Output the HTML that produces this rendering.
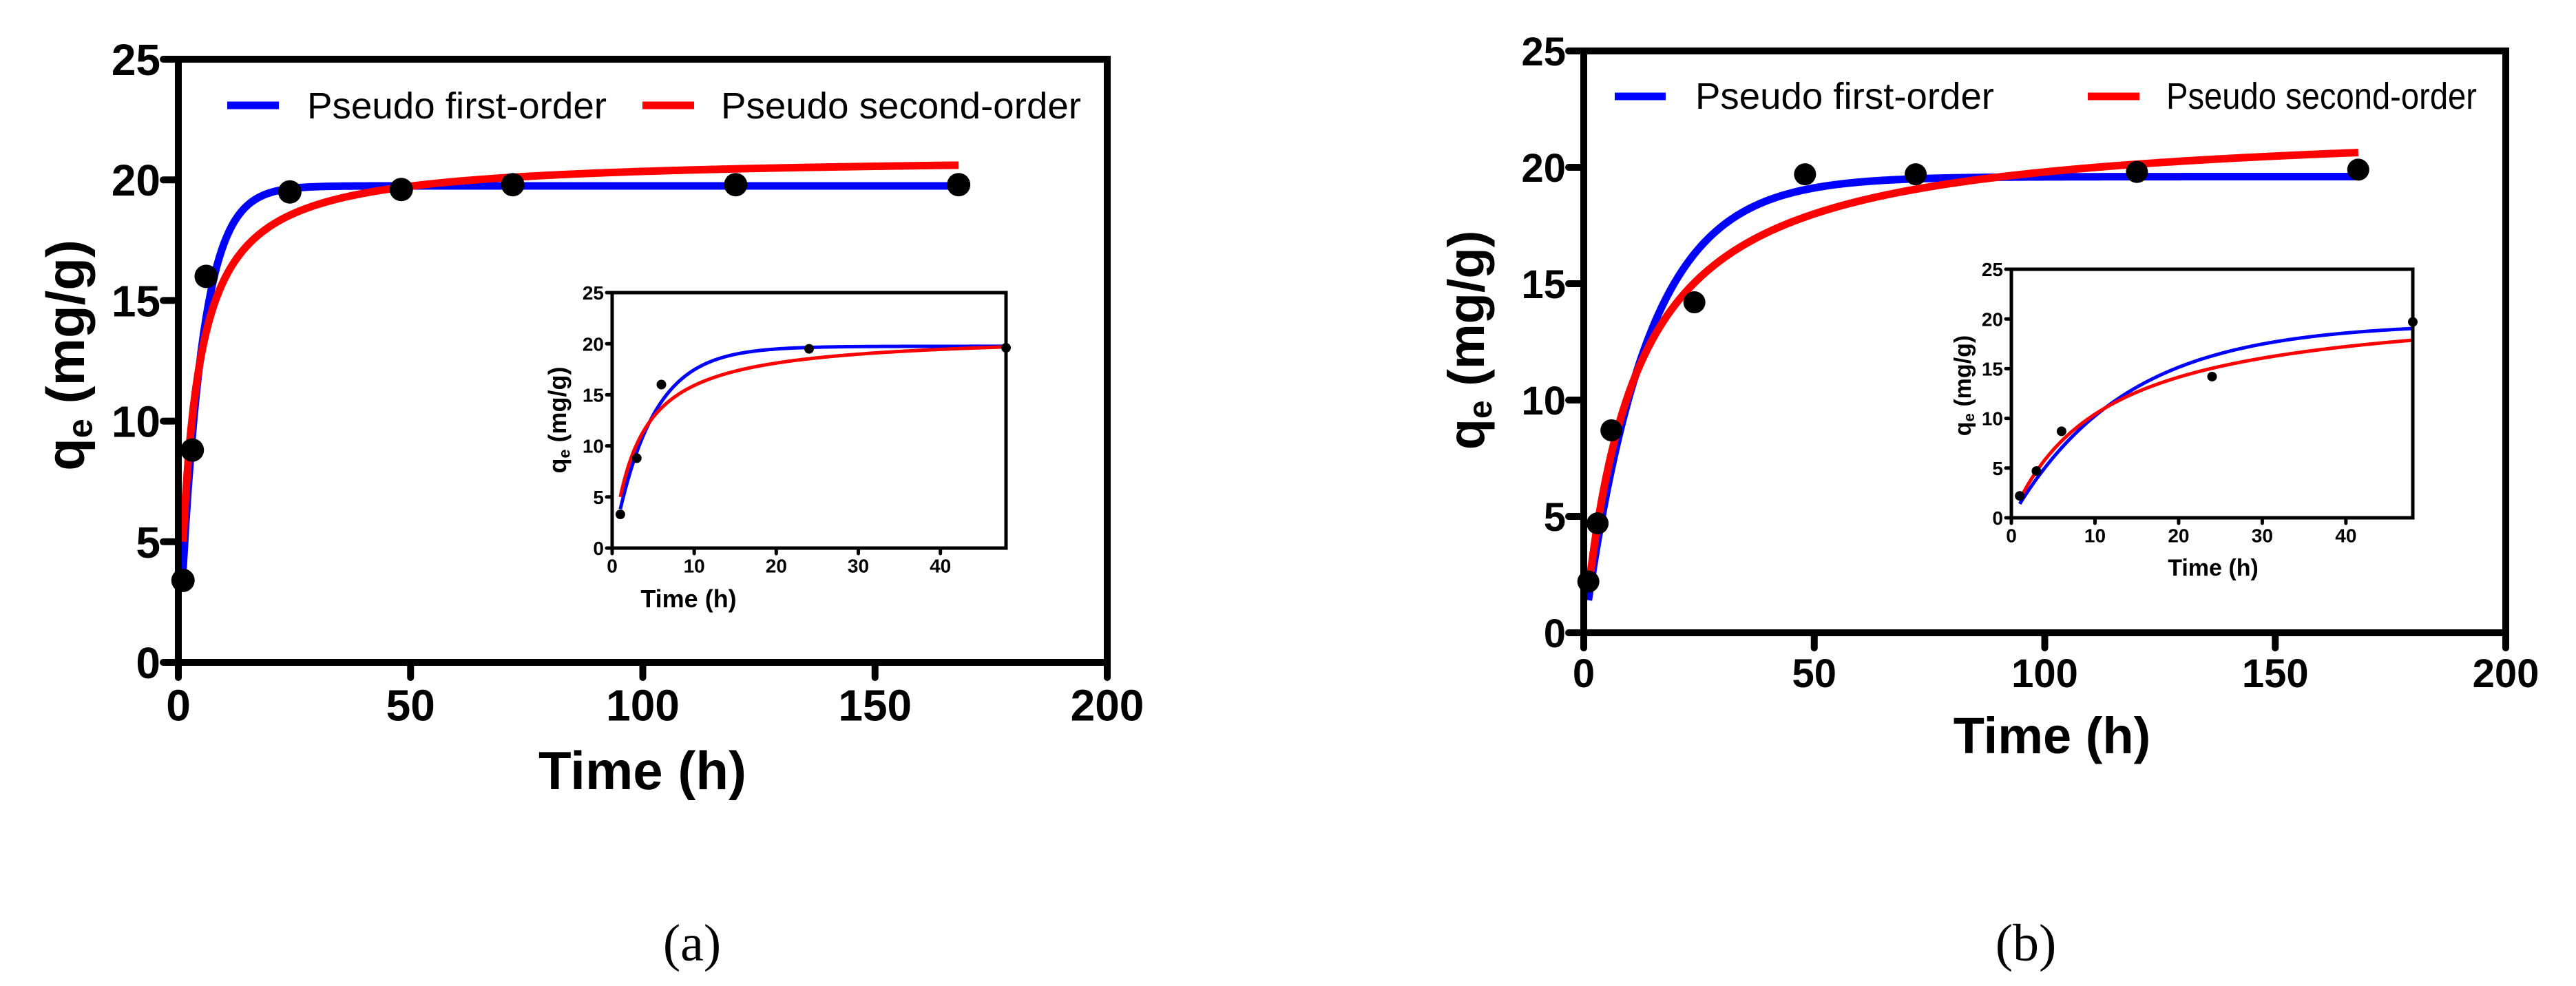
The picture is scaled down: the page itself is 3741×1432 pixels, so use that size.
<!DOCTYPE html>
<html><head><meta charset="utf-8"><style>
html,body{margin:0;padding:0;background:#fff;}
svg{display:block;}
text{font-family:"Liberation Sans",sans-serif;}
</style></head>
<body>
<svg id="fig" width="3741" height="1432" viewBox="0 0 3741 1432" xmlns="http://www.w3.org/2000/svg"></svg>
<script>
// ---- data ----
var timesA = [1, 3, 6, 24, 48, 72, 120, 168];
var qA = [3.4, 8.8, 16.0, 19.5, 19.6, 19.8, 19.8, 19.8];
var timesB = [1, 3, 6, 24, 48, 72, 120, 168];
var qB = [2.2, 4.7, 8.7, 14.2, 19.7, 19.7, 19.8, 19.9];
var insetTimesA = [1, 3, 6, 24, 48];
var insetQA = [3.3, 8.8, 16.0, 19.5, 19.6];
var insetTimesB = [1, 3, 6, 24, 48];
var insetQB = [2.2, 4.7, 8.7, 14.2, 19.7];
// fitted model parameters [qe, k]
var pfoA = [19.75, 0.215];
var psoA = [21.0, 0.0149];
var pfoB = [19.6, 0.074];
var psoB = [22.0, 0.00409];
var xTicksMain = [0, 50, 100, 150, 200];
var yTicks = [0, 5, 10, 15, 20, 25];
var xTicksInset = [0, 10, 20, 30, 40];
var legendLabels = ["Pseudo first-order", "Pseudo second-order"];

var NS = "http://www.w3.org/2000/svg";
var svg = document.getElementById("fig");
function mk(tag, attrs, parent) {
  var e = document.createElementNS(NS, tag);
  for (var k in attrs) e.setAttribute(k, attrs[k]);
  (parent || svg).appendChild(e);
  return e;
}
function pfo(p, t) { return p[0] * (1 - Math.exp(-p[1] * t)); }
function pso(p, t) { return p[1] * p[0] * p[0] * t / (1 + p[1] * p[0] * t); }

function curvePath(fn, p, t0, t1, sx, sy) {
  var d = "";
  var n = 300;
  for (var i = 0; i <= n; i++) {
    var t = t0 + (t1 - t0) * i / n;
    d += (i ? "L" : "M") + sx(t).toFixed(2) + "," + sy(fn(p, t)).toFixed(2);
  }
  return d;
}

function drawPlot(cfg, name) {
  var g = mk("g", {});
  
  
  var sx = function (v) { return cfg.L + (v - 0) / (cfg.xmax) * (cfg.R - cfg.L); };
  var sy = function (v) { return cfg.B - v / 25 * (cfg.B - cfg.T); };
  // curves
  var c1 = mk("path", {d: curvePath(pfo, cfg.pfo, 1, cfg.tEnd, sx, sy), fill: "none", stroke: "#0000ff", "stroke-width": cfg.lw, "stroke-linejoin": "round"}, g);
  
  
  var c2 = mk("path", {d: curvePath(pso, cfg.pso, 1, cfg.tEnd, sx, sy), fill: "none", stroke: "#ff0000", "stroke-width": cfg.lw, "stroke-linejoin": "round"}, g);
  
  
  // points
  for (var i = 0; i < cfg.ts.length; i++) {
    var pt = mk("circle", {cx: sx(cfg.ts[i]), cy: sy(cfg.qs[i]), r: cfg.r, fill: "#000"}, g);
    
    
  }
  // axes frame
  var fr = mk("rect", {x: cfg.L, y: cfg.T, width: cfg.R - cfg.L, height: cfg.B - cfg.T, fill: "none", stroke: "#000", "stroke-width": cfg.aw}, g);
  
  
  // y ticks
  for (var j = 0; j < yTicks.length; j++) {
    var y = sy(yTicks[j]);
    var tk = mk("line", {x1: cfg.L - cfg.tl, x2: cfg.L, y1: y, y2: y, stroke: "#000", "stroke-width": cfg.aw, "stroke-linecap": "round"}, g);
    
    
    var tx = mk("text", {x: cfg.L - cfg.tl - 4, y: y + cfg.fs * 0.36, "font-size": cfg.fs, "font-weight": "bold", "text-anchor": "end"}, g);
    tx.textContent = yTicks[j];
    
    
  }
  // x ticks
  for (var k = 0; k < cfg.xt.length; k++) {
    var x = sx(cfg.xt[k]);
    var tk2 = mk("line", {x1: x, x2: x, y1: cfg.B, y2: cfg.B + cfg.tl, stroke: "#000", "stroke-width": cfg.aw, "stroke-linecap": "round"}, g);
    
    
    var tx2 = mk("text", {x: x, y: cfg.B + cfg.tl + cfg.fs * 0.98, "font-size": cfg.fs, "font-weight": "bold", "text-anchor": "middle"}, g);
    tx2.textContent = cfg.xt[k];
    
    
  }
  // x title
  var xtl = mk("text", {x: cfg.xtX, y: cfg.xtY, "font-size": cfg.tfs, "font-weight": "bold", "text-anchor": "middle"}, g);
  xtl.textContent = "Time (h)";
  
  
  // y title
  var ytl = mk("text", {x: 0, y: 0, "font-size": cfg.tfs, "font-weight": "bold", "text-anchor": "middle", transform: "translate(" + cfg.ytX + "," + cfg.ytY + ") rotate(-90)"}, g);
  ytl.appendChild(document.createTextNode("q"));
  var sub = mk("tspan", {"font-size": cfg.tfs * 0.65, dy: cfg.tfs * 0.15}, ytl);
  sub.textContent = "e";
  var rest = mk("tspan", {dy: -cfg.tfs * 0.15}, ytl);
  rest.textContent = " (mg/g)";
  
  
  return g;
}

function legend(items, name) {
  var g = mk("g", {});
  
  
  var colors = ["#0000ff", "#ff0000"];
  for (var i = 0; i < 2; i++) {
    var it = items[i];
    var ln = mk("line", {x1: it.lx1, x2: it.lx2, y1: it.ly, y2: it.ly, stroke: colors[i], "stroke-width": 11}, g);
    
    
    var t = mk("text", {x: it.tx, y: it.ty, "font-size": 54, textLength: it.tw, lengthAdjust: "spacingAndGlyphs"}, g);
    t.textContent = legendLabels[i];
    
    
  }
}

// Panel (a)
drawPlot({L: 259, R: 1608, T: 86, B: 962, xmax: 200, ts: timesA, qs: qA, pfo: pfoA, pso: psoA, tEnd: 168,
  lw: 11, r: 17, aw: 10, tl: 22, fs: 64, xt: xTicksMain, tfs: 78, xtX: 933, xtY: 1146, ytX: 122, ytY: 516}, "main-plot-a");
legend([{lx1: 330, lx2: 405, ly: 153, tx: 446, ty: 172, tw: 435}, {lx1: 933, lx2: 1008, ly: 153, tx: 1047, ty: 172, tw: 523}], "legend-a");
drawPlot({L: 889, R: 1461, T: 425, B: 796, xmax: 48, ts: insetTimesA, qs: insetQA, pfo: pfoA, pso: psoA, tEnd: 48,
  lw: 5, r: 7, aw: 5, tl: 8, fs: 28, xt: xTicksInset, tfs: 36, xtX: 1000, xtY: 882, ytX: 822, ytY: 610}, "inset-plot-a");

// Panel (b)
drawPlot({L: 2300, R: 3639, T: 74, B: 919, xmax: 200, ts: timesB, qs: qB, pfo: pfoB, pso: psoB, tEnd: 168,
  lw: 11, r: 16, aw: 10, tl: 22, fs: 58, xt: xTicksMain, tfs: 74, xtX: 2980, xtY: 1094, ytX: 2155, ytY: 494}, "main-plot-b");
legend([{lx1: 2345, lx2: 2419, ly: 140, tx: 2462, ty: 158, tw: 434}, {lx1: 3032, lx2: 3107, ly: 140, tx: 3146, ty: 158, tw: 451}], "legend-b");
drawPlot({L: 2921, R: 3504, T: 391, B: 752, xmax: 48, ts: insetTimesB, qs: insetQB, pfo: pfoB, pso: psoB, tEnd: 48,
  lw: 5, r: 7, aw: 5, tl: 8, fs: 28, xt: xTicksInset, tfs: 34, xtX: 3214, xtY: 836, ytX: 2862, ytY: 560}, "inset-plot-b");

// captions
var capA = mk("text", {x: 1005, y: 1395, "font-size": 76, "text-anchor": "middle", style: "font-family:'Liberation Serif',serif"});
capA.textContent = "(a)";


var capB = mk("text", {x: 2942, y: 1395, "font-size": 76, "text-anchor": "middle", style: "font-family:'Liberation Serif',serif"});
capB.textContent = "(b)";


</script>
</body></html>
